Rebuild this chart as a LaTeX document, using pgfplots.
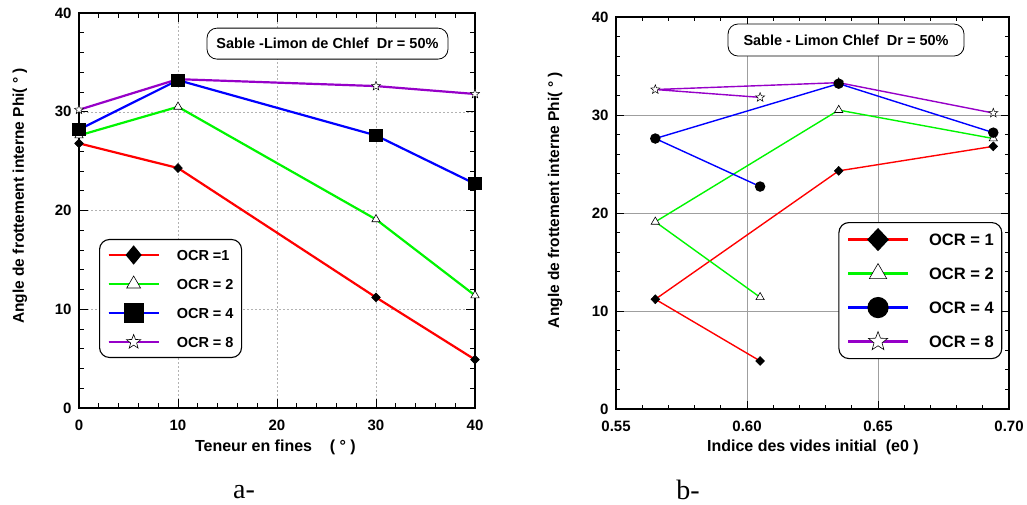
\documentclass[border=0pt]{standalone}
\usepackage{fontspec}
\setmainfont{Liberation Sans}
\newfontfamily\capfont{Liberation Serif}
\usepackage{pgfplots}
\usepackage{pgfplotstable}
\pgfplotsset{compat=1.18}
\definecolor{cred}{RGB}{255,0,0}
\definecolor{cgreen}{RGB}{0,245,0}
\definecolor{cblue}{RGB}{0,0,255}
\definecolor{cpurple}{RGB}{150,0,200}

\pgfdeclareplotmark{ostar}{%
  \pgfpathmoveto{\pgfqpointpolar{90}{\pgfplotmarksize}}%
  \pgfpathlineto{\pgfqpointpolar{126}{0.42\pgfplotmarksize}}%
  \pgfpathlineto{\pgfqpointpolar{162}{\pgfplotmarksize}}%
  \pgfpathlineto{\pgfqpointpolar{198}{0.42\pgfplotmarksize}}%
  \pgfpathlineto{\pgfqpointpolar{234}{\pgfplotmarksize}}%
  \pgfpathlineto{\pgfqpointpolar{270}{0.42\pgfplotmarksize}}%
  \pgfpathlineto{\pgfqpointpolar{306}{\pgfplotmarksize}}%
  \pgfpathlineto{\pgfqpointpolar{342}{0.42\pgfplotmarksize}}%
  \pgfpathlineto{\pgfqpointpolar{18}{\pgfplotmarksize}}%
  \pgfpathlineto{\pgfqpointpolar{54}{0.42\pgfplotmarksize}}%
  \pgfpathclose
  \pgfusepathqfillstroke
}

% fines (%), initial void ratio e0, phi for OCR = 1, 2, 4, 8
\pgfplotstableread{
fines e0    o1   o2   o4   o8
0     0.694 26.8 27.6 28.2 30.2
10    0.635 24.3 30.5 33.2 33.3
30    0.565 11.2 19.1 27.6 32.6
40    0.605 4.9  11.4 22.7 31.8
}\datatab

\pgfplotsset{
  base/.style={
    scale only axis, anchor=south west, clip=false,
    axis line style={line width=1.3pt},
    tick style={black, line width=0.9pt},
    major tick length=9pt, minor tick length=5pt,
    tick align=inside,
    ticklabel style={font=\fontsize{15}{17}\selectfont\bfseries},
    /pgf/number format/assume math mode=true,
    xticklabel shift=8pt, yticklabel shift=4pt,
    ymin=0, ymax=40, ytick={0,10,20,30,40}, minor y tick num=4,
    grid=major,
    legend cell align=left,
    legend image post style={sharp corners},
  },
}

\begin{document}
\begin{tikzpicture}
\useasboundingbox (0pt,0pt) rectangle (1027pt,504pt);

% ---------------- a- ----------------
\begin{axis}[base,
  at={(79pt,96pt)}, width=396pt, height=395pt,
  xmin=0, xmax=40, xtick={0,10,20,30,40}, minor x tick num=4,
  grid style={gray!60, line width=0.5pt, dash pattern=on 2pt off 2pt},
  xlabel={Teneur en fines\ \ \ \ ( ° )},
  ylabel={Angle de frottement interne Phi( ° )},
  xlabel style={font=\fontsize{16}{18}\selectfont\bfseries, at={(rel axis cs:0.496,-0.099)}, anchor=center},
  ylabel style={font=\fontsize{15.5}{17}\selectfont\bfseries, at={(rel axis cs:-0.149,0.537)}, anchor=center},
  legend image code/.code={%
    \draw[mark=none] (0pt,0pt) -- (50pt,0pt);
    \path[mark repeat=2,mark phase=2] plot coordinates {(0pt,0pt)(25pt,0pt)(50pt,0pt)};},
  legend style={at={(0.0505,0.428)}, anchor=north west, draw, line width=1.1pt,
    rounded corners=10pt, fill=white, inner xsep=8pt, inner ysep=1pt,
    column sep=17pt, row sep=0pt,
    nodes={inner sep=0pt, text depth=0pt, minimum height=29pt, font=\fontsize{14.5}{16}\selectfont\bfseries}},
]
\addplot[forget plot, color=cpurple, line width=2.2pt, mark=ostar, mark size=4.8pt, mark options={fill=white, draw=black, line width=0.5pt}] table[x=fines, y=o8]{\datatab};
\addplot[forget plot, color=cred, line width=2.2pt, mark=diamond*, mark size=4.5pt, mark options={fill=black, draw=black, line width=0.5pt, xscale=1.3}] table[x=fines, y=o1]{\datatab};
\addplot[forget plot, color=cgreen, line width=2.2pt, mark=triangle*, mark size=4.8pt, mark options={fill=white, draw=black, line width=0.6pt}] table[x=fines, y=o2]{\datatab};
\addplot[forget plot, color=cblue, line width=2.2pt, mark=square*, mark size=5.5pt, mark options={fill=black, draw=black}] table[x=fines, y=o4]{\datatab};

\addlegendimage{color=cred, draw=cred, line width=2.2pt, mark=diamond*, mark size=8pt, mark options={fill=black, draw=black, xscale=1.1}}
\addlegendentry{OCR =1}
\addlegendimage{color=cgreen, draw=cgreen, line width=2.2pt, mark=triangle*, mark size=8pt, mark options={fill=white, draw=black, line width=0.6pt}}
\addlegendentry{OCR = 2}
\addlegendimage{color=cblue, draw=cblue, line width=2.2pt, mark=square*, mark size=8.8pt, mark options={fill=black, draw=black}}
\addlegendentry{OCR = 4}
\addlegendimage{color=cpurple, draw=cpurple, line width=2.2pt, mark=ostar, mark size=7.5pt, mark options={fill=white, draw=black, line width=0.6pt}}
\addlegendentry{OCR = 8}

\node[draw, rounded corners=10pt, fill=white, line width=0.8pt, minimum width=241pt, minimum height=31pt,
  font=\fontsize{14.5}{16}\selectfont\bfseries] at (axis cs:25.1,36.9) {Sable -Limon de Chlef\ \ Dr = 50\%};
\end{axis}

% ---------------- b- ----------------
\begin{axis}[base,
  at={(616pt,95pt)}, width=393pt, height=392pt,
  xmin=0.55, xmax=0.70, xtick={0.55,0.60,0.65,0.70}, minor x tick num=4,
  major tick length=8pt, minor tick length=4pt,
  xticklabel style={/pgf/number format/.cd, fixed, fixed zerofill, precision=2},
  grid style={gray!75, line width=0.7pt},
  xlabel={Indice des vides initial\ \ (e0 )},
  ylabel={Angle de frottement interne Phi( ° )},
  xlabel style={font=\fontsize{16}{18}\selectfont\bfseries, at={(rel axis cs:0.501,-0.097)}, anchor=center},
  ylabel style={font=\fontsize{15.5}{17}\selectfont\bfseries, at={(rel axis cs:-0.155,0.533)}, anchor=center},
  legend image code/.code={%
    \draw[mark=none] (0pt,0pt) -- (60pt,0pt);
    \path[mark repeat=2,mark phase=2] plot coordinates {(0pt,0pt)(30pt,0pt)(60pt,0pt)};},
  legend style={at={(0.0502,0.477)}, anchor=north west, draw, line width=1.1pt,
    rounded corners=10pt, fill=white, inner xsep=8pt, inner ysep=0pt,
    column sep=20pt, row sep=0pt, xshift=0pt,
    nodes={inner sep=0pt, text depth=0pt, minimum height=34pt, font=\fontsize{16.5}{18}\selectfont\bfseries}},
  legend style={at={(0.983,0.477)}, anchor=north east},
]
\addplot[forget plot, color=cpurple, line width=1.4pt, mark=ostar, mark size=4.8pt, mark options={fill=white, draw=black, line width=0.5pt}] table[x=e0, y=o8]{\datatab};
\addplot[forget plot, color=cred, line width=1.4pt, mark=diamond*, mark size=4.5pt, mark options={fill=black, draw=black, line width=0.5pt, xscale=1.3}] table[x=e0, y=o1]{\datatab};
\addplot[forget plot, color=cgreen, line width=1.4pt, mark=triangle*, mark size=4.8pt, mark options={fill=white, draw=black, line width=0.6pt}] table[x=e0, y=o2]{\datatab};
\addplot[forget plot, color=cblue, line width=1.4pt, mark=*, mark size=4.5pt, mark options={fill=black, draw=black}] table[x=e0, y=o4]{\datatab};

\addlegendimage{color=cred, draw=cred, line width=2.2pt, mark=diamond*, mark size=10pt, mark options={fill=black, draw=black, xscale=1.25}}
\addlegendentry{OCR = 1}
\addlegendimage{color=cgreen, draw=cgreen, line width=2.2pt, mark=triangle*, mark size=10pt, mark options={fill=white, draw=black, line width=0.6pt}}
\addlegendentry{OCR = 2}
\addlegendimage{color=cblue, draw=cblue, line width=2.2pt, mark=*, mark size=9.5pt, mark options={fill=black, draw=black}}
\addlegendentry{OCR = 4}
\addlegendimage{color=cpurple, draw=cpurple, line width=2.2pt, mark=ostar, mark size=10pt, mark options={fill=white, draw=black, line width=0.6pt}}
\addlegendentry{OCR = 8}

\node[draw, rounded corners=10pt, fill=white, line width=0.8pt, minimum width=236pt, minimum height=32pt,
  font=\fontsize{14.5}{16}\selectfont\bfseries] at (axis cs:0.6378,37.65) {Sable - Limon Chlef\ \ Dr = 50\%};
\end{axis}

\node[font=\capfont\fontsize{28}{30}\selectfont] at (244pt,12pt) {a-};
\node[font=\capfont\fontsize{28}{30}\selectfont] at (688pt,14pt) {b-};
\end{tikzpicture}
\end{document}
